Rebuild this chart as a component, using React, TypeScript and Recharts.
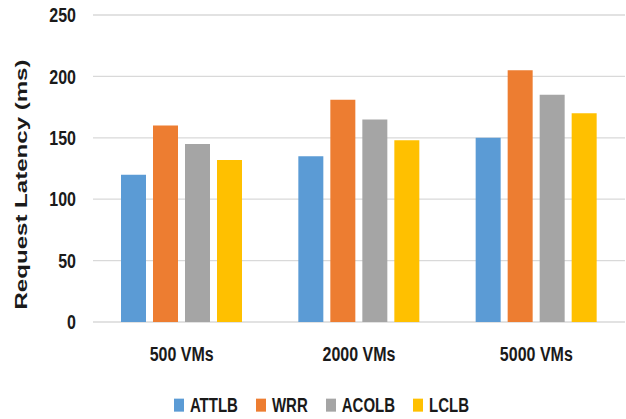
import React from 'react';
import { BarChart, Bar, XAxis, YAxis, CartesianGrid, Legend, Label } from 'recharts';

// Request latency per load balancer for each VM count
const categories = ['500 VMs', '2000 VMs', '5000 VMs'];
const attlb = [120, 135, 150];
const wrr = [160, 181, 205];
const acolb = [145, 165, 185];
const lclb = [132, 148, 170];
const yTicks = [0, 50, 100, 150, 200, 250];

const seriesDefs = [
  { key: 'ATTLB', values: attlb, color: '#5B9BD5' },
  { key: 'WRR', values: wrr, color: '#ED7D31' },
  { key: 'ACOLB', values: acolb, color: '#A5A5A5' },
  { key: 'LCLB', values: lclb, color: '#FFC000' },
];
const seriesOrder = seriesDefs.map((s) => s.key);

const data = categories.map((name, i) => {
  const row: Record<string, string | number> = { name };
  seriesDefs.forEach((s) => {
    row[s.key] = s.values[i];
  });
  return row;
});

const FONT = '"Liberation Sans", Arial, sans-serif';
const TEXT_COLOR = '#1a1a1a';
const STRETCH = 1.25;

const YTick = (props: any) => {
  const { x, y, payload } = props;
  return (
    <g transform={`translate(${x},${y}) scale(1,${STRETCH})`}>
      <text x={0} y={0} dy="0.355em" textAnchor="end" fontFamily={FONT} fontWeight="bold" fontSize={16} fill={TEXT_COLOR}>
        {payload.value}
      </text>
    </g>
  );
};

const XTick = (props: any) => {
  const { x, y, payload } = props;
  return (
    <g transform={`translate(${x},${y}) scale(1,${STRETCH})`}>
      <text x={0} y={0} dy="0.71em" textAnchor="middle" fontFamily={FONT} fontWeight="bold" fontSize={16} fill={TEXT_COLOR}>
        {payload.value}
      </text>
    </g>
  );
};

const YTitle = (props: any) => {
  const { viewBox } = props;
  const cx = viewBox.x + 21.5;
  const cy = viewBox.y + viewBox.height / 2 + 16;
  return (
    <text
      x={cx}
      y={cy}
      dy="0.35em"
      transform={`rotate(-90, ${cx}, ${cy})`}
      textAnchor="middle"
      textLength={250}
      lengthAdjust="spacingAndGlyphs"
      fontFamily={FONT}
      fontWeight="bold"
      fontSize={16}
      fill={TEXT_COLOR}
    >
      Request Latency (ms)
    </text>
  );
};

const LegendContent = (props: any) => {
  const items = [...(props.payload || [])].sort(
    (a: any, b: any) => seriesOrder.indexOf(a.value) - seriesOrder.indexOf(b.value)
  );
  return (
    <div style={{ height: 30, display: 'flex', alignItems: 'center', justifyContent: 'center' }}>
      <div
        style={{
          display: 'flex',
          alignItems: 'center',
          transform: `scaleY(${STRETCH + 0.05})`,
          marginLeft: 18,
          fontFamily: FONT,
          fontWeight: 'bold',
          fontSize: 15,
          color: TEXT_COLOR,
        }}
      >
        {items.map((entry: any, i: number) => (
          <div key={entry.value} style={{ display: 'flex', alignItems: 'center', marginLeft: i === 0 ? 0 : 18 }}>
            <span style={{ display: 'inline-block', width: 10, height: 10, background: entry.color, marginRight: 6 }} />
            <span>{entry.value}</span>
          </div>
        ))}
      </div>
    </div>
  );
};

export default function App() {
  return (
    <div style={{ position: 'absolute', left: 0, top: 0, background: '#fff' }}>
      <BarChart
        width={626}
        height={419}
        data={data}
        margin={{ top: 15, right: 1, bottom: 0, left: 0 }}
        barSize={25}
        barGap={7}
      >
        <CartesianGrid vertical={false} stroke="#d9d9d9" strokeWidth={1.3} />
        <XAxis
          dataKey="name"
          height={67}
          axisLine={false}
          tickLine={false}
          tickSize={0}
          tickMargin={25}
          tick={<XTick />}
          interval={0}
        />
        <YAxis
          width={93}
          domain={[0, 250]}
          ticks={yTicks}
          axisLine={false}
          tickLine={false}
          tickSize={0}
          tickMargin={17}
          tick={<YTick />}
        >
          <Label content={<YTitle />} />
        </YAxis>
        <Legend verticalAlign="bottom" content={<LegendContent />} />
        {seriesDefs.map((s) => (
          <Bar key={s.key} dataKey={s.key} fill={s.color} isAnimationActive={false} />
        ))}
      </BarChart>
    </div>
  );
}
